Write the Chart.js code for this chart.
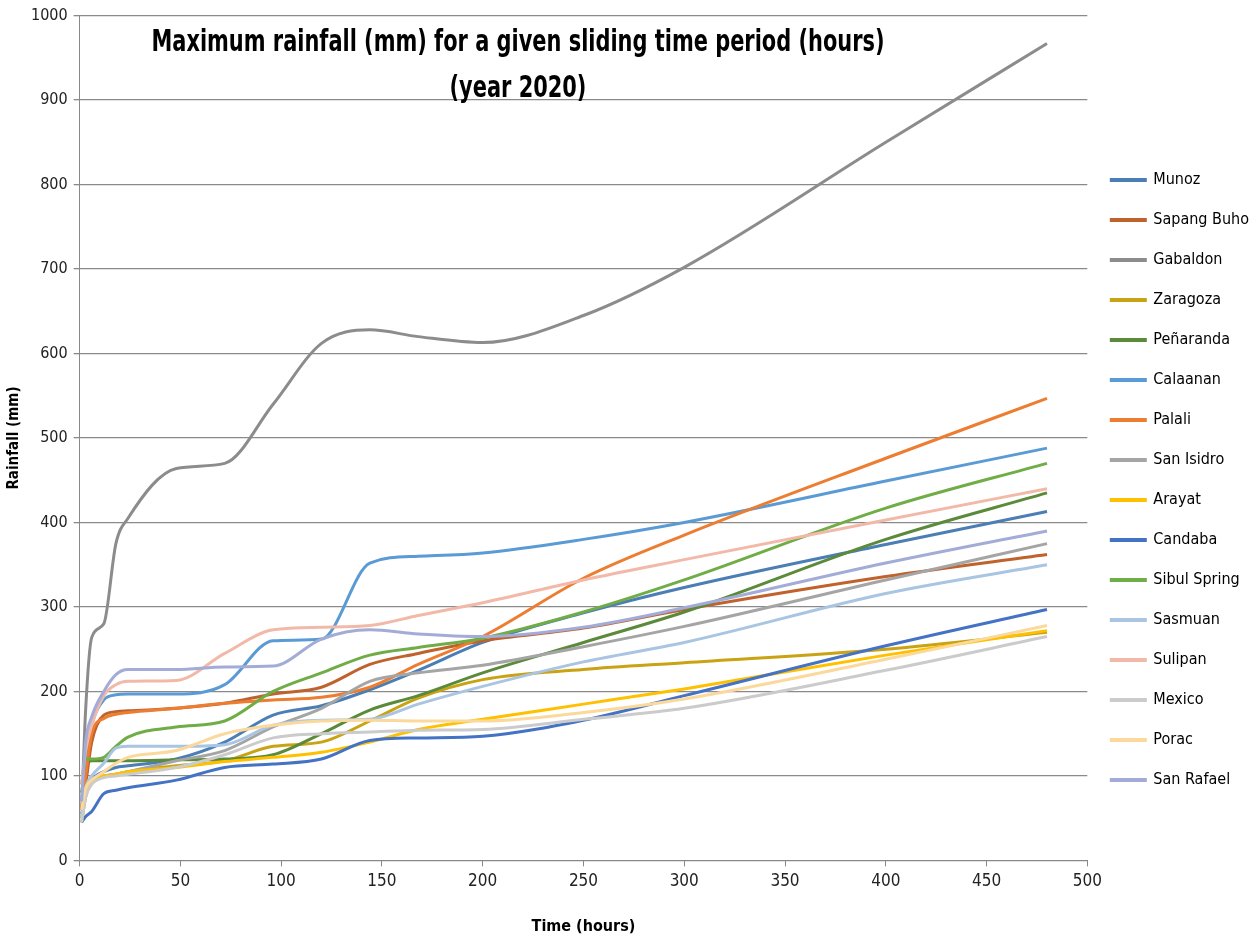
<!DOCTYPE html>
<html>
<head>
<meta charset="utf-8">
<script src="https://cdn.jsdelivr.net/npm/chart.js@4.4.0/dist/chart.umd.min.js"></script>
<style>
  html, body { margin: 0; padding: 0; background: #fff; }
  #wrap { position: relative; width: 1253px; height: 944px; overflow: hidden; }
  #title {
    position: absolute; left: 0; top: 17px; width: 1036px;
    text-align: center; font-family: "DejaVu Sans Condensed", "DejaVu Sans", sans-serif;
    font-weight: bold; font-size: 31px; line-height: 46px; color: #000;
    transform: scaleX(0.75); transform-origin: 518px 0;
    pointer-events: none;
  }
</style>
</head>
<body>
<div id="wrap">
  <canvas id="rainChart" width="1253" height="944"></canvas>
  <div id="title">Maximum rainfall (mm) for a given sliding time period (hours)<br>(year 2020)</div>
</div>
<script>
// sliding window lengths (hours) at which each station is read
const hours = [1, 3, 6, 12, 18, 24, 48, 72, 96, 120, 144, 168, 200, 250, 300, 400, 480];

// maximum rainfall (mm) per station
const munoz       = [55, 80, 95, 105, 110, 112, 120, 140, 172, 183, 202, 225, 258, 293, 323, 374, 413];
const sapangBuho  = [60, 90, 140, 172, 176, 177, 180, 186, 197, 205, 232, 245, 260, 275, 297, 336, 362];
const gabaldon    = [60, 179, 264, 280, 375, 405, 464, 470, 540, 612, 628, 620, 613, 645, 702, 850, 967];
const zaragoza    = [45, 75, 95, 100, 102, 105, 112, 118, 135, 140, 165, 192, 214, 226, 234, 250, 270];
const penaranda   = [80, 115, 118, 118, 118, 118, 119, 120, 125, 150, 178, 195, 222, 258, 294, 380, 435];
const calaanan    = [70, 120, 160, 190, 196, 197, 197, 208, 260, 262, 352, 360, 364, 380, 400, 449, 488];
const palali      = [60, 100, 150, 168, 173, 175, 180, 186, 190, 193, 205, 232, 265, 334, 385, 476, 547];
const sanIsidro   = [50, 80, 95, 100, 102, 105, 118, 130, 158, 180, 212, 222, 231, 253, 277, 332, 375];
const arayat      = [50, 80, 95, 100, 102, 105, 110, 117, 122, 128, 140, 155, 167, 185, 203, 243, 272];
const candaba     = [45, 52, 58, 79, 83, 86, 95, 110, 114, 120, 142, 145, 147, 166, 195, 254, 297];
const sibulSpring = [90, 120, 120, 122, 135, 146, 158, 165, 200, 222, 243, 252, 263, 294, 332, 417, 470];
const sasmuan     = [50, 85, 100, 115, 133, 135, 135, 137, 160, 166, 167, 185, 206, 235, 258, 316, 350];
const sulipan     = [90, 130, 160, 195, 208, 212, 213, 245, 273, 276, 278, 290, 305, 332, 356, 403, 440];
const mexico      = [45, 75, 90, 98, 100, 102, 110, 125, 145, 150, 152, 154, 155, 167, 180, 225, 265];
const porac       = [60, 85, 95, 105, 115, 122, 130, 150, 160, 165, 166, 165, 165, 175, 191, 238, 278];
const sanRafael   = [70, 140, 170, 200, 220, 226, 226, 229, 230, 262, 273, 268, 265, 276, 299, 352, 390];

const stations = ['Munoz', 'Sapang Buho', 'Gabaldon', 'Zaragoza', 'Peñaranda', 'Calaanan', 'Palali', 'San Isidro',
                  'Arayat', 'Candaba', 'Sibul Spring', 'Sasmuan', 'Sulipan', 'Mexico', 'Porac', 'San Rafael'];
const series = [munoz, sapangBuho, gabaldon, zaragoza, penaranda, calaanan, palali, sanIsidro,
                arayat, candaba, sibulSpring, sasmuan, sulipan, mexico, porac, sanRafael];
const colors = ['#4a7eb4', '#c0622c', '#8c8c8c', '#c9a313', '#5a8a3a', '#5b9bd5', '#ed7d31', '#a5a5a5',
                '#ffc000', '#4472c4', '#70ad47', '#a9c5e2', '#f2b9a9', '#cbcbcb', '#fbd99d', '#a3acd7'];

const fontFam = '"DejaVu Sans Condensed", "DejaVu Sans", sans-serif';

const datasets = stations.map((name, i) => ({
    label: name,
    data: hours.map((h, k) => ({ x: h, y: series[i][k] })),
    borderColor: colors[i],
    backgroundColor: colors[i],
    borderWidth: 3,
    pointRadius: 0,
    fill: false,
    cubicInterpolationMode: 'monotone',
    // later stations drawn on top, as in the spreadsheet
    order: stations.length - i
}));

const ctx = document.getElementById('rainChart').getContext('2d');
new Chart(ctx, {
    type: 'line',
    data: { datasets: datasets },
    options: {
        responsive: false,
        animation: false,
        layout: { padding: { top: 10, left: 3, right: -6, bottom: 8 } },
        plugins: {
            legend: {
                position: 'right',
                // empty title only used to nudge the list down a little
                title: { display: true, text: ' ', padding: { top: 9, bottom: 0 }, font: { size: 4 } },
                labels: {
                    boxWidth: 34,
                    boxHeight: 1,
                    padding: 24,
                    color: '#000',
                    font: { family: fontFam, size: 16 },
                    sort: (a, b) => a.datasetIndex - b.datasetIndex
                }
            },
            tooltip: { enabled: false }
        },
        scales: {
            x: {
                type: 'linear',
                min: 0,
                max: 500,
                ticks: {
                    stepSize: 50,
                    color: '#222',
                    padding: 5,
                    font: { family: fontFam, size: 17 }
                },
                grid: { drawOnChartArea: false, drawTicks: true, tickLength: 6, color: '#888' },
                border: { color: '#888' },
                title: {
                    display: true,
                    text: 'Time (hours)',
                    color: '#000',
                    padding: { top: 20, bottom: 0 },
                    font: { family: fontFam, size: 16, weight: 'bold' }
                }
            },
            y: {
                min: 0,
                max: 1000,
                ticks: {
                    stepSize: 100,
                    color: '#222',
                    padding: 6,
                    font: { family: fontFam, size: 16 },
                    callback: v => String(v)
                },
                grid: { color: '#8a8a8a', lineWidth: 1.3, tickLength: 6 },
                border: { color: '#888' },
                title: {
                    display: true,
                    text: 'Rainfall (mm)',
                    color: '#000',
                    padding: { top: 2, bottom: 2 },
                    font: { family: fontFam, size: 15, weight: 'bold' }
                }
            }
        }
    }
});
</script>
</body>
</html>
